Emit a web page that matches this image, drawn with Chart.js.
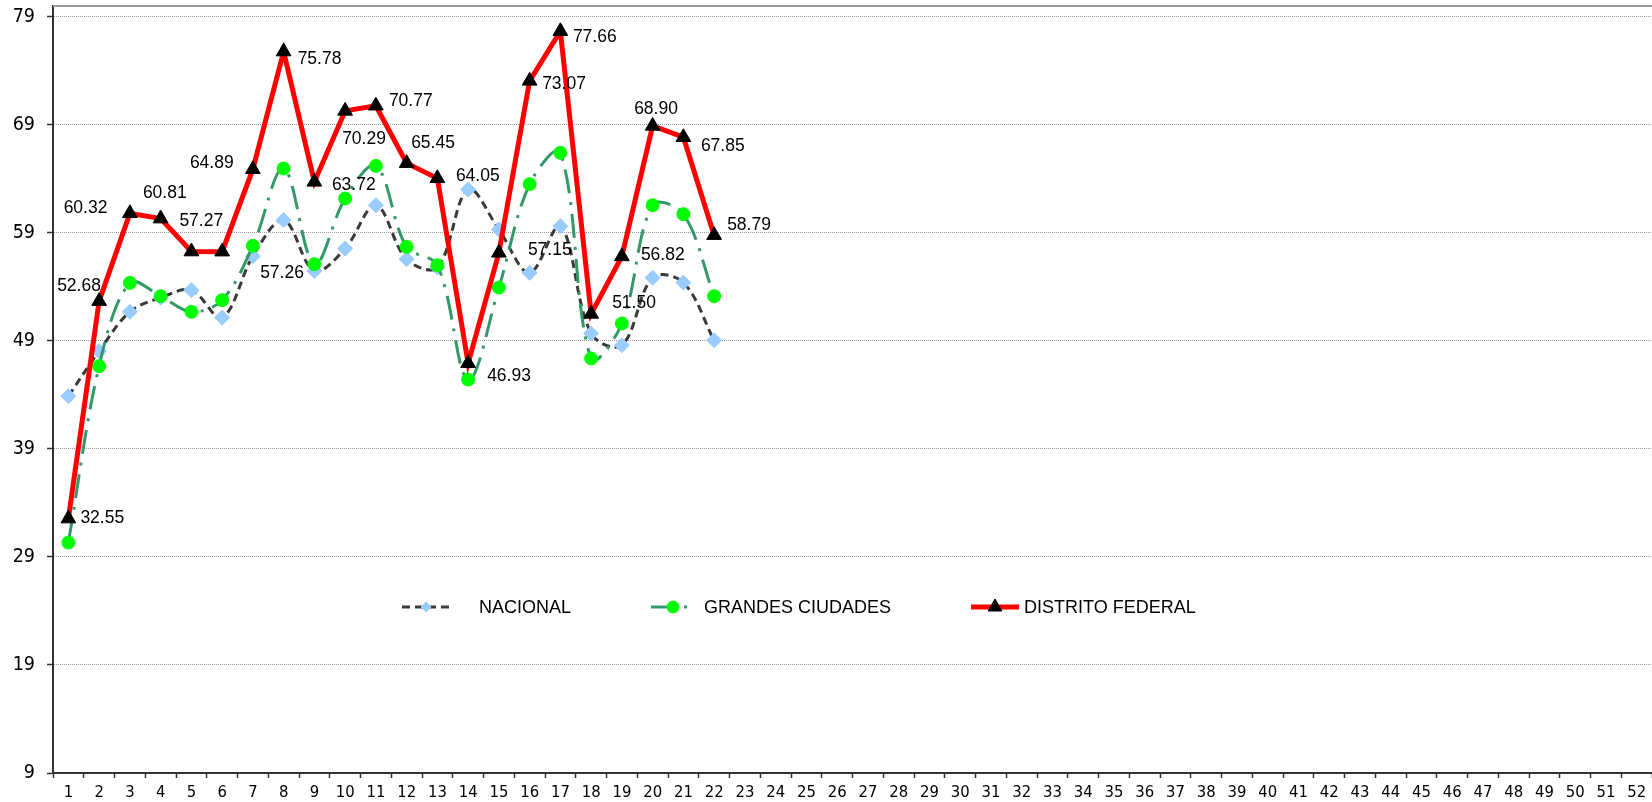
<!DOCTYPE html>
<html><head><meta charset="utf-8">
<script src="https://cdn.jsdelivr.net/npm/chart.js@4/dist/chart.umd.min.js"></script>
<style>html,body{margin:0;padding:0;background:#fff;overflow:hidden}#wrap{width:1652px;height:802px}</style>
</head><body><div id="wrap"><canvas id="c" width="1652" height="802"></canvas></div>
<script>
// ---- data ----
const categories = ['1','2','3','4','5','6','7','8','9','10','11','12','13','14','15','16','17','18','19','20','21','22','23','24','25','26','27','28','29','30','31','32','33','34','35','36','37','38','39','40','41','42','43','44','45','46','47','48','49','50','51','52'];
const seriesNames = ['NACIONAL','GRANDES CIUDADES','DISTRITO FEDERAL'];
const nacional = [43.88, 48.05, 51.69, 53.0, 53.69, 51.16, 56.84, 60.18, 55.48, 57.55, 61.56, 56.56, 55.8, 63.02, 59.31, 55.3, 59.62, 49.68, 48.6, 54.84, 54.4, 49.06];
const grandesCiudades = [30.33, 46.66, 54.37, 53.14, 51.69, 52.77, 57.8, 64.96, 56.1, 62.18, 65.2, 57.7, 56.0, 45.42, 53.94, 63.51, 66.41, 47.37, 50.61, 61.56, 60.73, 53.14];
const distritoFederal = [32.55, 52.68, 60.81, 60.32, 57.27, 57.26, 64.89, 75.78, 63.72, 70.29, 70.77, 65.45, 64.05, 46.93, 57.15, 73.07, 77.66, 51.50, 56.82, 68.90, 67.85, 58.79];
const yTicks = [9, 19, 29, 39, 49, 59, 69, 79];
const yMin = 9, yMax = 80;

// ---- label placement (style) ----
const labelOffsets = [[12,0],[-42,-15],[13,-20],[-97,-10],[-12,-30],[38,21.5],[-63,-6],[14,7.5],[17.5,3],[-3,28],[13,-5],[4.5,-20],[18.5,-2],[19,12.5],[29,-3],[12.5,3],[12.5,6],[21,-10.7],[19,-1.5],[-18.5,-17],[17.5,9],[13,-9.5]];
const legendLayout = [
  {ds:0, x0:402, x1:450, tx:479, y:607, r:5},
  {ds:1, x0:651, x1:695, tx:704, y:607, r:6},
  {ds:2, x0:971, x1:1019, tx:1024, y:607, r:8}
];

const dfLabels = {
  id: 'dfLabels',
  afterDatasetsDraw(chart) {
    const meta = chart.getDatasetMeta(2);
    const ctx = chart.ctx;
    ctx.save();
    ctx.font = '17.5px "Liberation Sans", Arial, sans-serif';
    ctx.fillStyle = '#000';
    ctx.textAlign = 'left';
    ctx.textBaseline = 'middle';
    meta.data.forEach((p, i) => {
      const v = distritoFederal[i];
      if (v == null) return;
      const o = labelOffsets[i] || [10, 0];
      ctx.fillText(v.toFixed(2), p.x + o[0], p.y + o[1]);
    });
    ctx.restore();
  }
};

const frame = {
  id: 'frame',
  afterDraw(chart) {
    const {ctx, chartArea} = chart;
    ctx.save();
    ctx.strokeStyle = '#999999';
    ctx.lineWidth = 2;
    ctx.beginPath();
    ctx.moveTo(chartArea.left, chartArea.top);
    ctx.lineTo(chartArea.right, chartArea.top);
    ctx.stroke();
    ctx.restore();
  }
};

const customLegend = {
  id: 'customLegend',
  afterDraw(chart) {
    const ctx = chart.ctx;
    ctx.save();
    legendLayout.forEach(it => {
      const ds = chart.data.datasets[it.ds];
      ctx.save();
      ctx.strokeStyle = ds.borderColor;
      ctx.lineWidth = ds.borderWidth;
      ctx.setLineDash(ds.borderDash || []);
      ctx.beginPath();
      ctx.moveTo(it.x0, it.y);
      ctx.lineTo(it.x1, it.y);
      ctx.stroke();
      ctx.restore();
      ctx.save();
      ctx.fillStyle = ds.pointBackgroundColor;
      ctx.strokeStyle = ds.pointBorderColor;
      ctx.lineWidth = 1;
      Chart.helpers.drawPoint(ctx, {pointStyle: ds.pointStyle, radius: it.r, borderWidth: 1, rotation: 0}, (it.x0 + it.x1) / 2, it.y);
      ctx.restore();
      ctx.fillStyle = '#000';
      ctx.font = '18px "Liberation Sans", Arial, sans-serif';
      ctx.textAlign = 'left';
      ctx.textBaseline = 'middle';
      ctx.fillText(seriesNames[it.ds], it.tx, it.y + 1);
    });
    ctx.restore();
  }
};

const chart = new Chart(document.getElementById('c'), {
  type: 'line',
  data: {
    labels: categories,
    datasets: [
      {
        label: seriesNames[0], data: nacional, order: 3,
        borderColor: '#3a3a3a', borderWidth: 3, borderDash: [8, 5],
        tension: 0.35, fill: false,
        pointStyle: 'rectRot', pointRadius: 7.5, pointBorderWidth: 1,
        pointBackgroundColor: '#99CCFF', pointBorderColor: '#99CCFF'
      },
      {
        label: seriesNames[1], data: grandesCiudades, order: 2,
        borderColor: '#339966', borderWidth: 3, borderDash: [24, 9, 3, 9],
        tension: 0.35, fill: false,
        pointStyle: 'circle', pointRadius: 6.5, pointBorderWidth: 1,
        pointBackgroundColor: '#00FF00', pointBorderColor: '#00FF00'
      },
      {
        label: seriesNames[2], data: distritoFederal, order: 1,
        borderColor: '#FF0000', borderWidth: 5,
        tension: 0, fill: false,
        pointStyle: 'triangle', pointRadius: 8.5, pointBorderWidth: 1,
        pointBackgroundColor: '#000000', pointBorderColor: '#000000'
      }
    ]
  },
  options: {
    responsive: false,
    animation: false,
    devicePixelRatio: 1,
    layout: { autoPadding: false, padding: { top: 6, right: -3, left: 0, bottom: 0 } },
    plugins: { legend: { display: false }, tooltip: { enabled: false } },
    scales: {
      x: {
        type: 'category',
        offset: true,
        afterFit(s) { s.height = 29; s.paddingLeft = 0; s.paddingRight = 0; },
        grid: { display: true, offset: true, drawOnChartArea: false, drawTicks: true, tickLength: 5, tickColor: '#333', tickWidth: 1.5 },
        border: { display: true, color: '#333', width: 2 },
        ticks: { autoSkip: false, maxRotation: 0, minRotation: 0, padding: 5, color: '#000',
          font: { family: '"DejaVu Sans Condensed", "DejaVu Sans", sans-serif', size: 16.5 } }
      },
      y: {
        min: yMin, max: yMax,
        afterFit(s) { s.width = 53; s.paddingTop = 0; s.paddingBottom = 0; },
        afterBuildTicks(s) { s.ticks = yTicks.map(v => ({ value: v })); },
        grid: { color: '#9a9a9a', lineWidth: 1, tickLength: 6, tickColor: '#333', tickWidth: 1.5, tickBorderDash: [] },
        border: { display: true, color: '#333', width: 2, dash: [1, 1] },
        ticks: { padding: 12, color: '#000',
          font: { family: '"DejaVu Sans Condensed", "DejaVu Sans", sans-serif', size: 19.5 } }
      }
    }
  },
  plugins: [dfLabels, frame, customLegend]
});
</script>
</body></html>
